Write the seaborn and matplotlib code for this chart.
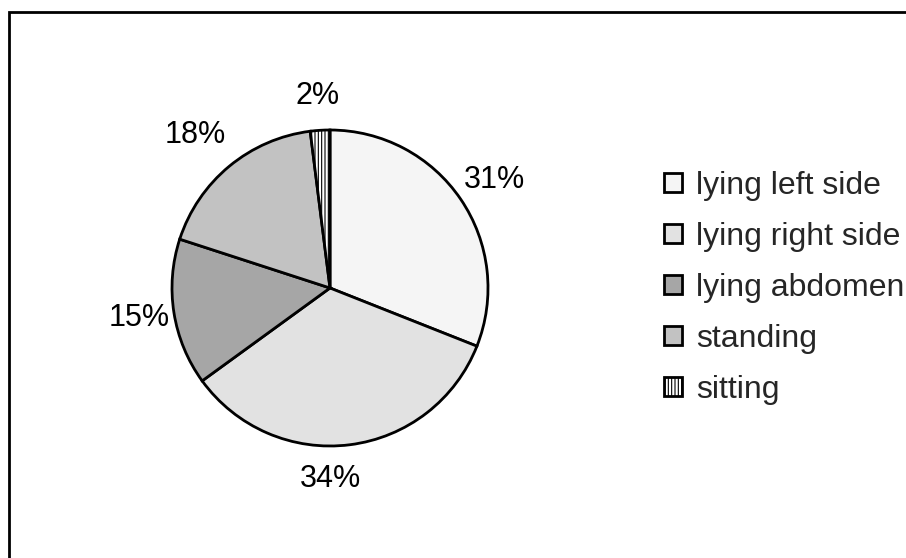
import matplotlib
matplotlib.use("Agg")
import matplotlib.pyplot as plt
import seaborn as sns
from matplotlib.patches import Rectangle

categories = ["lying left side", "lying right side", "lying abdomen", "standing", "sitting"]
values = [31, 34, 15, 18, 2]
labels = ["31%", "34%", "15%", "18%", "2%"]
colors = ["#f5f5f5", "#e2e2e2", "#a6a6a6", "#c2c2c2", "#ffffff"]
hatches = [None, None, None, None, "|||||"]

sns.set_theme(style="white")
plt.rcParams["font.family"] = ["Liberation Sans", "DejaVu Sans"]
plt.rcParams["hatch.color"] = "#9a9a9a"
plt.rcParams["hatch.linewidth"] = 0.8

W, H = 906, 558
fig = plt.figure(figsize=(W / 100, H / 100), dpi=100)
fig.patch.set_facecolor("white")

# outer frame
fig.add_artist(Rectangle((9 / W, 0 - 0.05), 1.1, (H - 12) / H + 0.05,
                         transform=fig.transFigure, fill=False,
                         edgecolor="black", linewidth=2))

cx, cy, r = 330, 288, 158
ax = fig.add_axes([(cx - r) / W, (H - cy - r) / H, 2 * r / W, 2 * r / H])
wedges, texts = ax.pie(values, labels=labels, colors=colors, startangle=90,
                       counterclock=False, labeldistance=1.22,
                       wedgeprops=dict(edgecolor="black", linewidth=2),
                       textprops=dict(fontsize=22, color="black"))
for w, h in zip(wedges, hatches):
    if h:
        w.set_hatch(h)

# small nudges (in pixels) to mimic the spreadsheet's label placement
nudge_px = {"34%": (-24, 0), "18%": (-12, 4), "31%": (5, 0)}
for t in texts:
    t.set_ha("center")
    t.set_va("center")
    dx, dy = nudge_px.get(t.get_text(), (0, 0))
    x, y = t.get_position()
    t.set_position((x + dx / r, y + dy / r))
ax.set_xlim(-1, 1)
ax.set_ylim(-1, 1)
ax.set_aspect("equal")
ax.axis("off")

leg = fig.legend(wedges, categories, loc="center left",
                 bbox_to_anchor=(664 / W, 1 - 288 / H), frameon=False,
                 fontsize=23, handlelength=0.55, handleheight=0.55,
                 handletextpad=0.45, labelspacing=0.66, borderaxespad=0,
                 borderpad=0)
for hnd in leg.legend_handles:
    hnd.set_linewidth(2)

fig.savefig("out.png", dpi=100)
